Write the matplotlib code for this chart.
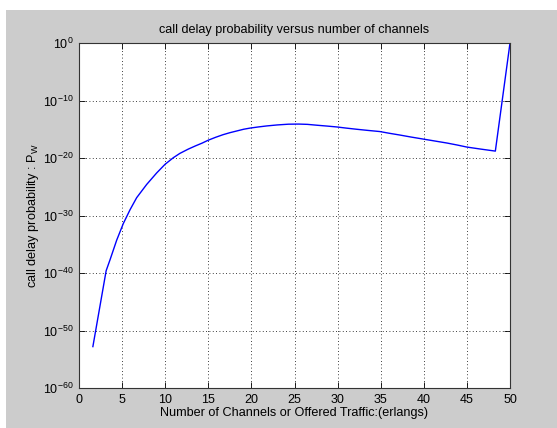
import matplotlib
matplotlib.use("Agg")
import matplotlib.pyplot as plt
from matplotlib.patches import Rectangle

# valeurs (exposants log10 de la probabilite)
channels = [1.61, 3.15, 3.6, 4.37, 5.14, 5.92, 6.69, 7.85, 9.01, 9.98,
            10.94, 11.7, 12.68, 13.5, 14.3, 15.0, 15.85, 16.7, 17.5, 18.3,
            19.1, 19.84, 20.8, 21.8, 23.0, 24.3, 25.5, 26.5, 27.6, 28.8,
            29.9, 31.0, 32.2, 33.5, 34.9, 36.0, 37.2, 38.5, 39.9, 41.3,
            42.7, 43.9, 45.0, 46.6, 48.3, 50.0]
log_pw = [-52.8, -39.6, -37.7, -34.3, -31.4, -29.0, -26.9, -24.6, -22.6, -21.1,
          -19.95, -19.2, -18.45, -17.9, -17.4, -16.9, -16.4, -15.95, -15.6, -15.3,
          -15.0, -14.8, -14.6, -14.42, -14.25, -14.12, -14.1, -14.15, -14.3, -14.45,
          -14.6, -14.8, -15.0, -15.2, -15.4, -15.7, -16.0, -16.35, -16.7, -17.05,
          -17.4, -17.75, -18.1, -18.45, -18.8, 0.0]
pw = [10.0 ** v for v in log_pw]

x_ticks = [0, 5, 10, 15, 20, 25, 30, 35, 40, 45, 50]
y_exps = [-60, -50, -40, -30, -20, -10, 0]

plt.rcParams['font.family'] = ['Liberation Sans', 'DejaVu Sans']
plt.rcParams['font.size'] = 9

fig = plt.figure(figsize=(5.57, 4.28), dpi=100, facecolor='white')
# fond gris style matlab, avec la petite marge blanche
fig.patches.append(Rectangle((6 / 557, 0), 1, 418 / 428, transform=fig.transFigure,
                             facecolor='#cccccc', edgecolor='none', zorder=-10))

ax = fig.add_axes([79 / 557, 40 / 428, 431 / 557, 345 / 428])
ax.plot(channels, pw, color='#0000ff', linewidth=1.0)
ax.set_yscale('log')
ax.set_xlim(0, 50)
ax.set_ylim(1e-60, 1)

ax.set_xticks(x_ticks)
ax.set_yticks([10.0 ** e for e in y_exps])
ax.set_yticklabels([r'$\mathregular{10^{%d}}$' % e for e in y_exps])
ax.minorticks_off()
ax.tick_params(direction='in', length=4, width=0.6, top=True, right=True, colors='black', pad=4)
ax.grid(True, linestyle=(0, (1, 3)), color='black', linewidth=0.6)
for s in ax.spines.values():
    s.set_linewidth(0.8)
    s.set_color('#333333')

ax.set_title('call delay probability versus number of channels', fontsize=9.1, pad=7)
ax.set_xlabel('Number of Channels or Offered Traffic:(erlangs)', fontsize=9.1, labelpad=1)
ax.set_ylabel(r'call delay probability : P$\mathregular{_W}$', fontsize=9.2, labelpad=1)

fig.savefig('out.png', dpi=100, facecolor=fig.get_facecolor())
